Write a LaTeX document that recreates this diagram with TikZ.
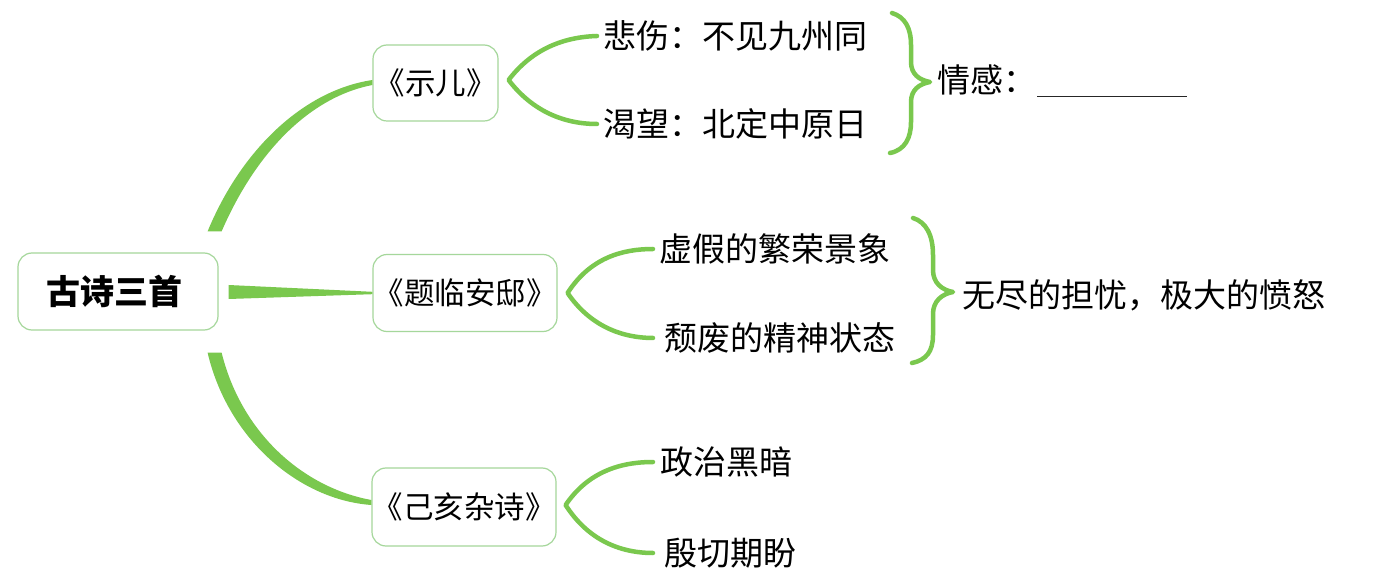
\documentclass[tikz,border=0pt]{standalone}
\usepackage{fontspec}
\newfontfamily\cjk{Noto Sans CJK SC}
\usetikzlibrary{calc}
\definecolor{branch}{RGB}{122,200,78}
\definecolor{boxline}{RGB}{165,215,155}
\begin{document}
\begin{tikzpicture}[x=1pt,y=-1pt,
  box/.style={draw=boxline, line width=1.2pt, rounded corners=14pt, fill=white, inner sep=0pt},
  boxtxt/.style={font=\cjk\fontsize{30.5}{36}\selectfont},
  txt/.style={anchor=west, inner sep=0pt, font=\cjk\fontsize{33}{36}\selectfont},
  fork/.style={draw=branch, line width=4.5pt, line cap=round, line join=round},
  brace/.style={draw=branch, line width=4.5pt, line cap=round, line join=round}]
\useasboundingbox (0,0) rectangle (1393,585);
\fill[white] (0,0) rectangle (1393,585);

% boxes
\node[box, minimum width=200pt, minimum height=77pt, font=\cjk\bfseries\fontsize{34}{40}\selectfont] (root) at (118,291.5) {\hspace*{-8pt}古诗三首};
\node[box, boxtxt, minimum width=125pt, minimum height=76pt] (b1) at (435.5,83) {《示儿》};
\node[box, boxtxt, minimum width=184pt, minimum height=77pt] (b2) at (465,293) {《题临安邸》};
\node[box, boxtxt, minimum width=184pt, minimum height=78pt] (b3) at (464,507) {《己亥杂诗》};

% leaf texts
\node[txt] (t1) at (603,36) {悲伤：不见九州同};
\node[txt] (t2) at (603,124) {渴望：北定中原日};
\node[txt] (q1) at (937,80) {情感：};
\node[txt] (t3) at (659,249) {虚假的繁荣景象};
\node[txt] (t4) at (664,338) {颓废的精神状态};
\node[txt] (q2) at (962,295) {无尽的担忧，极大的愤怒};
\node[txt] (t5) at (660,462) {政治黑暗};
\node[txt] (t6) at (664,553) {殷切期盼};

% main branches (tapered)
\fill[branch] ($(root.north east)+(-11,-21)$) .. controls (242,148) and (305,90) .. ($(b1.west)+(0,-3)$)
  -- ($(b1.west)+(0,2)$) .. controls (310,97) and (256,152) .. ($(root.north east)+(3,-21)$) -- cycle;
\fill[branch] ($(root.east)+(10,-6.5)$) -- ($(b2.west)+(0,-1.2)$) -- ($(b2.west)+(0,1.2)$) -- ($(root.east)+(10,7.5)$) -- cycle;
\fill[branch] ($(root.south east)+(-11,22)$) .. controls (228,440) and (300,500) .. ($(b3.west)+(0,-2)$)
  -- ($(b3.west)+(0,-7)$) .. controls (305,488) and (242,435) .. ($(root.south east)+(3,22)$) -- cycle;

% forks
\coordinate (k1) at ($(b1.east)+(10,-3)$);
\coordinate (k2) at ($(b2.east)+(10,0)$);
\coordinate (k3) at ($(b3.east)+(9,-2)$);
\draw[fork] ($(t1.west)+(-6,0)$) .. controls (565,37) and (533,48) .. (k1)
  .. controls (533,112) and (565,124) .. ($(t2.west)+(-6,0)$);
\draw[fork] ($(t3.west)+(-6,0)$) .. controls (622,249) and (590,258) .. (k2)
  .. controls (590,326) and (622,338) .. ($(t4.west)+(-11,0)$);
\draw[fork] ($(t5.west)+(-7,0)$) .. controls (620,462) and (588,472) .. (k3)
  .. controls (588,540) and (620,553) .. ($(t6.west)+(-11,0)$);

% braces
\draw[brace] (892,13) .. controls (905,17) and (911,28) .. (911,45) -- (911,62)
  .. controls (911,74) and (919,80) .. (930,82)
  .. controls (919,84) and (911,90) .. (911,102) -- (911,122)
  .. controls (911,138) and (905,150) .. (890,153);
\draw[brace] (913,218) .. controls (926,222) and (933,235) .. (933,255) -- (933,270)
  .. controls (933,283) and (942,290) .. (953,292)
  .. controls (942,294) and (933,301) .. (933,314) -- (933,335)
  .. controls (933,352) and (926,360) .. (912,363);

% blank line
\coordinate (bl1) at (1037,97);
\coordinate (bl2) at (1187,97);
\draw[line width=1pt, black!85] (bl1) -- (bl2);
\end{tikzpicture}
\end{document}
